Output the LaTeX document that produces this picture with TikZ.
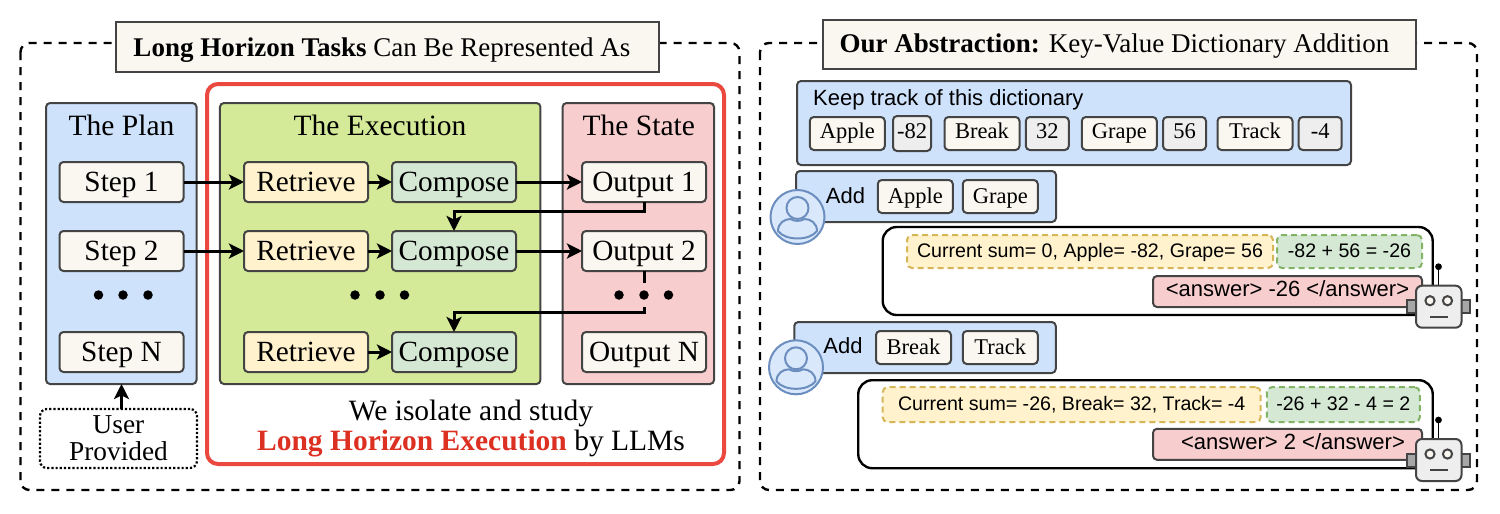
\documentclass[tikz,border=0pt]{standalone}
\usepackage{fontspec}
\setmainfont{Liberation Serif}
\setsansfont{Liberation Sans}
\usetikzlibrary{arrows.meta}
\definecolor{edgegray}{HTML}{444444}
\definecolor{paper}{HTML}{F9F7F0}
\definecolor{planblue}{HTML}{CFE2FB}
\definecolor{execgreen}{HTML}{D4EA98}
\definecolor{statered}{HTML}{F8CDCE}
\definecolor{redframe}{HTML}{EB4840}
\definecolor{redtext}{HTML}{DC3022}
\definecolor{softyellow}{HTML}{FFF2CC}
\definecolor{softgreen}{HTML}{D5E8D4}
\definecolor{softgray}{HTML}{EEEEEE}
\definecolor{dashyellow}{HTML}{D6B656}
\definecolor{dashgreen}{HTML}{82B366}
\definecolor{userblue}{HTML}{6C8EBF}
\definecolor{userfill}{HTML}{DAE8FC}
\tikzset{
	dim/.style 2 args={minimum width=#1, minimum height=#2},
	box/.style={draw=edgegray, line width=2pt, rounded corners=4pt, inner sep=0pt, outer sep=0pt, align=center, font=\fontsize{29.3}{32}\selectfont, text height=20pt, text depth=2pt},
	tag/.style={box, fill=paper, font=\fontsize{22.5}{26}\selectfont, text height=15pt, text depth=5pt},
	val/.style={tag, fill=softgray},
	addtag/.style={tag, text height=16pt, text depth=3pt},
	talk/.style={box, font=\sffamily\fontsize{19.6}{22}\selectfont, text height=14pt, text depth=2pt},
	answer/.style={talk, fill=statered, font=\sffamily\fontsize{22}{24}\selectfont, text height=15pt, text depth=5pt},
	say/.style={font=\sffamily\fontsize{22}{24}\selectfont, inner sep=0pt},
	dashbox/.style={talk, dash pattern=on 6pt off 4pt, rounded corners=5pt},
	titlebox/.style={box, fill=paper, rounded corners=0pt, font=\fontsize{27}{30}\selectfont, text height=18pt, text depth=0pt},
	paneltitle/.style={font=\fontsize{29.5}{32}\selectfont, anchor=base, inner sep=0pt},
	frame/.style={draw=black, line width=2.4pt, dash pattern=on 8pt off 7pt, rounded corners=9pt},
	chat/.style={draw=black, line width=2.4pt, fill=white, rounded corners=14pt},
	flow/.style={draw=black, line width=3pt, -{Stealth[length=15pt,width=15pt,inset=3.5pt]}},
	dotmark/.style={circle, fill=black, inner sep=0pt, minimum size=9.5pt},
}
\def\personicon(#1){
	\begin{scope}[shift={(#1)}]
		\draw[draw=userblue, fill=userfill, line width=2pt] (0,0) circle (27pt);
		\draw[draw=userblue, fill=userfill, line width=2pt] (-19.5,14) .. controls (-19.5,6) and (-13,2) .. (-7,2) .. controls (-3,4.5) and (3,4.5) .. (7,2) .. controls (13,2) and (19.5,6) .. (19.5,14) .. controls (12,24) and (-12,24) .. (-19.5,14) -- cycle;
		\draw[draw=userblue, fill=userfill, line width=2pt] (0,-9) circle (11pt);
	\end{scope}
}
\def\roboticon(#1){
	\begin{scope}[shift={(#1)}]
		\draw[edgegray, line width=2pt, fill=black!35] (-31.5,14.5) rectangle (-22,27.5);
		\draw[edgegray, line width=2pt, fill=black!35] (22,14.5) rectangle (31,27.5);
		\draw[black, line width=1.8pt] (0,0) -- (0,-19);
		\fill[black] (0,-19) circle (3.4pt);
		\draw[edgegray, line width=2pt, fill=softgray, rounded corners=6pt] (-22.5,0) rectangle (23,42);
		\draw[edgegray, line width=2pt, fill=paper] (-8.5,15) circle (4.6pt);
		\draw[edgegray, line width=2pt, fill=paper] (9,15) circle (4.6pt);
		\draw[edgegray, line width=2.2pt] (-8.5,31) -- (9,31);
	\end{scope}
}
\begin{document}
\begin{tikzpicture}[x=1pt, y=-1pt]
	\useasboundingbox (0,0) rectangle (1500,514);
	%%%%% LEFT %%%%%
	\draw[frame] (20.5,43) rectangle (739.5,490);
	\node[titlebox, dim={543}{50}] (titleleft) at (387.5,47) {\hspace*{-11pt}\textbf{Long Horizon Tasks} Can Be Represented As};
	
	\draw[redframe, line width=4pt, rounded corners=11pt] (207,84) rectangle (724,464);
	
	\node[box, fill=planblue, dim={150.5}{281}] (plan) at (121.3,243.5) {};
	\node[box, fill=execgreen, dim={320.5}{281}] (exec) at (380.2,243.5) {};
	\node[box, fill=statered, dim={151.5}{281}] (state) at (638.3,243.5) {};
	\node[paneltitle] (plantitle) at (121.5,135) {The Plan};
	\node[paneltitle] (exectitle) at (380,135) {The Execution};
	\node[paneltitle] (statetitle) at (638.8,135) {The State};
	
	\node[box, fill=paper, dim={124}{40}] (step1) at (121.5,182) {Step 1};
	\node[box, fill=paper, dim={124}{40}] (step2) at (121.5,251) {Step 2};
	\node[box, fill=paper, dim={124}{40}] (stepN) at (121.5,352) {Step N};
	\node[box, fill=softyellow, dim={124}{40}] (ret1) at (306,182) {Retrieve};
	\node[box, fill=softyellow, dim={124}{40}] (ret2) at (306,251) {Retrieve};
	\node[box, fill=softyellow, dim={124}{40}] (retN) at (306,352) {Retrieve};
	\node[box, fill=softgreen, dim={124}{40}] (cmp1) at (454,182) {Compose};
	\node[box, fill=softgreen, dim={124}{40}] (cmp2) at (454,251) {Compose};
	\node[box, fill=softgreen, dim={124}{40}] (cmpN) at (454,352) {Compose};
	\node[box, fill=paper, dim={124}{40}] (out1) at (644,182) {Output 1};
	\node[box, fill=paper, dim={124}{40}] (out2) at (644,251) {Output 2};
	\node[box, fill=paper, dim={124}{40}] (outN) at (644,352) {Output N};
	
	\node[dotmark] (plandot1) at (98.5,295) {};
	\node[dotmark] (plandot2) at (123,295) {};
	\node[dotmark] (plandot3) at (148,295) {};
	\node[dotmark] (execdot1) at (355,295) {};
	\node[dotmark] (execdot2) at (380,295) {};
	\node[dotmark] (execdot3) at (404.5,295) {};
	\node[dotmark] (statedot1) at (619,295) {};
	\node[dotmark] (statedot2) at (644,295) {};
	\node[dotmark] (statedot3) at (668.5,295) {};
	
	\draw[flow] (step1) -- (ret1);
	\draw[flow] (step2) -- (ret2);
	\draw[flow] (ret1) -- (cmp1);
	\draw[flow] (ret2) -- (cmp2);
	\draw[flow] (retN) -- (cmpN);
	\draw[flow] (cmp1) -- (out1);
	\draw[flow] (cmp2) -- (out2);
	
	\coordinate (turn1) at (454,211.5);
	\coordinate (gapup) at (644,283);
	\coordinate (gapdown) at (644,307);
	\coordinate (turn2) at (454,312.5);
	\draw[flow] (out1.south) |- (turn1) -- (cmp2.north);
	\draw[line width=3pt] (out2.south) -- (gapup);
	\draw[flow] (gapdown) |- (turn2) -- (cmpN.north);
	
	\node[draw=black, line width=2.2pt, dotted, rounded corners=7pt, dim={157}{59}, inner sep=0pt, align=center, font=\fontsize{27.3}{26.7}\selectfont] (user) at (118.5,438.5) {User\\Provided};
	\coordinate (userup) at (121.5,409);
	\coordinate (plandown) at (121.5,384);
	\draw[flow] (userup) -- (plandown);
	
	\node[align=center, font=\fontsize{29.5}{30}\selectfont] (isolate) at (471,429) {We isolate and study\\{\color{redtext}\bfseries Long Horizon Execution} by LLMs};
	
	%%%%% RIGHT %%%%%
	\draw[frame] (760,43) rectangle (1477,490);
	\node[titlebox, dim={593}{49}, text height=17pt, text depth=1pt] (titleright) at (1119.5,44.5) {\hspace*{-10pt}\textbf{Our Abstraction:} Key-Value Dictionary Addition};
	
	\node[box, fill=planblue, dim={554}{84}] (dict) at (1074,123) {};
	\node[say, anchor=base west] (dicttext) at (813,105) {Keep track of this dictionary};
	\node[tag, dim={75}{33}] (keyapple) at (847.3,133.5) {Apple};
	\node[val, dim={38}{35}] (valapple) at (912,133.5) {-82};
	\node[tag, dim={75}{33}] (keybreak) at (982,133.5) {Break};
	\node[val, dim={43}{33}] (valbreak) at (1047.3,133.5) {32};
	\node[tag, dim={75}{33}] (keygrape) at (1119.3,133.5) {Grape};
	\node[val, dim={43}{33}] (valgrape) at (1184.5,133.5) {56};
	\node[tag, dim={75}{33}] (keytrack) at (1255,133.5) {Track};
	\node[val, dim={43}{33}] (valtrack) at (1320.2,133.5) {-4};
	
	\node[box, fill=planblue, dim={260}{51}] (addone) at (926,196.5) {};
	\node[say, anchor=base] (addonetext) at (845.5,203.3) {Add};
	\node[addtag, dim={75}{33}] (addapple) at (915.3,196.5) {Apple};
	\node[addtag, dim={75}{33}] (addgrape) at (1000.3,196.5) {Grape};
	\personicon(797.5,217);
	
	\node[chat, dim={550}{88}, inner sep=0pt] (replyone) at (1157.7,271) {};
	\node[dashbox, draw=dashyellow, fill=softyellow, dim={366}{33}] (sumone) at (1090,251.5) {Current sum= 0, Apple= -82, Grape= 56};
	\node[dashbox, draw=dashgreen, fill=softgreen, dim={145}{33}] (calcone) at (1349.5,251.5) {-82 + 56 = -26};
	\node[answer, dim={269}{31}] (ansone) at (1287.5,291.5) {<answer> -26 </answer>};
	\roboticon(1438.5,285.7);
	
	\node[box, fill=planblue, dim={261.5}{51}] (addtwo) at (925,347.5) {};
	\node[say, anchor=base] (addtwotext) at (843,353.3) {Add};
	\node[addtag, dim={75}{33}] (addbreak) at (913.5,347.5) {Break};
	\node[addtag, dim={75}{33}] (addtrack) at (1000.3,347.5) {Track};
	\personicon(796,367.3);
	
	\node[chat, dim={574.5}{88}, inner sep=0pt] (replytwo) at (1145.5,424.2) {};
	\node[dashbox, draw=dashyellow, fill=softyellow, dim={378}{35}] (sumtwo) at (1071.7,404.7) {Current sum= -26, Break= 32, Track= -4};
	\node[dashbox, draw=dashgreen, fill=softgreen, dim={153}{35}] (calctwo) at (1343.3,404.7) {-26 + 32 - 4 = 2};
	\node[answer, dim={269}{31}] (anstwo) at (1287.5,444.3) {\hspace*{11pt}<answer> 2 </answer>};
	\roboticon(1438.5,439);
\end{tikzpicture}
\end{document}
